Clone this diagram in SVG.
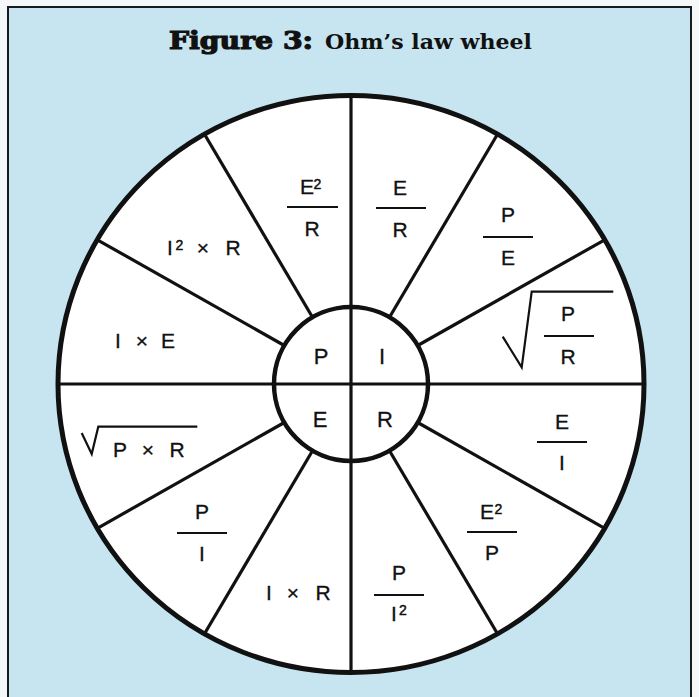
<svg xmlns="http://www.w3.org/2000/svg" width="699" height="697" viewBox="0 0 699 697">
<style>
.lbl{font-family:"Liberation Sans","Arial",sans-serif;font-size:21px;fill:#111;text-anchor:middle;stroke:#111;stroke-width:0.3}
.in{font-size:22px}
.sup{font-size:14px;stroke-width:0.5}
.bar{stroke:#111;stroke-width:2.2}
.rad{fill:none;stroke:#111;stroke-width:2.2;stroke-linejoin:miter}
.spoke{stroke:#111;stroke-width:3.2}
</style>
<rect x="0" y="0" width="699" height="697" fill="#f4f8f8"/>
<rect x="8" y="7" width="683" height="700" fill="#c7e5f0" stroke="#1a1a1a" stroke-width="2"/>
<g id="title">
<text x="169" y="49" font-family="'DejaVu Serif',serif" font-weight="900" font-size="24" textLength="144" lengthAdjust="spacingAndGlyphs" fill="#111" stroke="#111" stroke-width="1.2">Figure 3:</text>
<text x="325" y="49" font-family="'DejaVu Serif',serif" font-weight="bold" font-size="21" textLength="207" lengthAdjust="spacingAndGlyphs" fill="#111">Ohm’s law wheel</text>
</g>
<g id="wheel">
<ellipse cx="351" cy="384" rx="293" ry="288.5" fill="#fff" stroke="#111" stroke-width="5"/>
</g>
<g id="connectors">
<line class="spoke" x1="58" y1="384" x2="644" y2="384"/>
<line class="spoke" x1="351" y1="96" x2="351" y2="672"/>
<line class="spoke" x1="417.7" y1="345.5" x2="604.7" y2="239.8"/>
<line class="spoke" x1="389.5" y1="317.3" x2="497.5" y2="134.2"/>
<line class="spoke" x1="312.5" y1="317.3" x2="204.5" y2="134.2"/>
<line class="spoke" x1="284.3" y1="345.5" x2="97.3" y2="239.8"/>
<line class="spoke" x1="284.3" y1="422.5" x2="97.3" y2="528.3"/>
<line class="spoke" x1="312.5" y1="450.7" x2="204.5" y2="633.8"/>
<line class="spoke" x1="389.5" y1="450.7" x2="497.5" y2="633.8"/>
<line class="spoke" x1="417.7" y1="422.5" x2="604.7" y2="528.3"/>
</g>
<g id="hub">
<circle cx="351" cy="384" r="77" fill="none" stroke="#111" stroke-width="4.5"/>
<text class="lbl in" x="321" y="364">P</text>
<text class="lbl in" x="382" y="364">I</text>
<text class="lbl in" x="320" y="427">E</text>
<text class="lbl in" x="385" y="427">R</text>
</g>
<g id="seg-e2-r">
<text class="lbl" x="307" y="194">E</text><text class="lbl sup" x="317.5" y="189">2</text>
<line class="bar" x1="287" y1="207" x2="338" y2="207"/>
<text class="lbl" x="312" y="236">R</text>
</g>
<g id="seg-e-r">
<text class="lbl" x="400" y="195">E</text>
<line class="bar" x1="376" y1="208" x2="426" y2="208"/>
<text class="lbl" x="400" y="237">R</text>
</g>
<g id="seg-p-e">
<text class="lbl" x="508" y="222">P</text>
<line class="bar" x1="483" y1="237" x2="533" y2="237"/>
<text class="lbl" x="508" y="265">E</text>
</g>
<g id="seg-sqrt-p-r">
<polyline class="rad" points="502.7,336.7 521.7,367.3 531.7,291.7 613.3,291.7"/>
<text class="lbl" x="568" y="321">P</text>
<line class="bar" x1="544" y1="336" x2="594" y2="336"/>
<text class="lbl" x="568" y="364">R</text>
</g>
<g id="seg-i-e">
<text class="lbl" y="348"><tspan x="118">I</tspan><tspan x="142">×</tspan><tspan x="168">E</tspan></text>
</g>
<g id="seg-i2-r">
<text class="lbl" y="255"><tspan x="170">I</tspan><tspan x="203">×</tspan><tspan x="233">R</tspan></text>
<text class="lbl sup" x="179.5" y="250">2</text>
</g>
<g id="seg-sqrt-pr">
<polyline class="rad" points="81.7,433 91.7,454 98.3,426.7 197.3,426.7"/>
<text class="lbl" y="457"><tspan x="120">P</tspan><tspan x="148">×</tspan><tspan x="177">R</tspan></text>
</g>
<g id="seg-p-i">
<text class="lbl" x="202" y="519">P</text>
<line class="bar" x1="177" y1="533" x2="227" y2="533"/>
<text class="lbl" x="202" y="561">I</text>
</g>
<g id="seg-i-r">
<text class="lbl" y="600"><tspan x="269">I</tspan><tspan x="293">×</tspan><tspan x="323">R</tspan></text>
</g>
<g id="seg-p-i2">
<text class="lbl" x="399" y="580">P</text>
<line class="bar" x1="374" y1="595" x2="424" y2="595"/>
<text class="lbl" x="394" y="621">I</text><text class="lbl sup" x="403" y="615">2</text>
</g>
<g id="seg-e2-p">
<text class="lbl" x="487" y="519">E</text><text class="lbl sup" x="498.5" y="514">2</text>
<line class="bar" x1="467" y1="532" x2="517" y2="532"/>
<text class="lbl" x="492" y="560">P</text>
</g>
<g id="seg-e-i">
<text class="lbl" x="562" y="429">E</text>
<line class="bar" x1="537" y1="442" x2="587" y2="442"/>
<text class="lbl" x="562" y="470">I</text>
</g>
</svg>
